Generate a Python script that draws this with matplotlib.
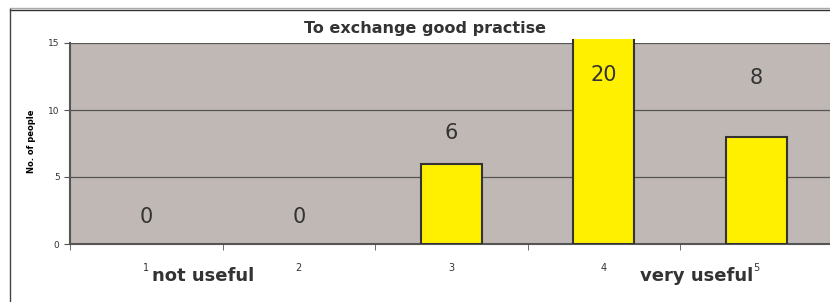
import matplotlib
matplotlib.use("Agg")
import matplotlib.pyplot as plt
from matplotlib.patches import Rectangle
from matplotlib.lines import Line2D

# données
categories = [1, 2, 3, 4, 5]
people = [0, 0, 6, 20, 8]
# hauteur des étiquettes de valeur (placées à la main dans l'original)
label_y = [2.0, 2.0, 8.3, 12.6, 12.4]

fig = plt.figure(figsize=(8.3, 3.02), dpi=100)
ax = fig.add_axes([70 / 830, 1 - 244 / 302, 762.5 / 830, 201 / 302])
ax.set_facecolor("#c0b8b5")

bars = ax.bar(categories, people, width=0.4, color="#fff000",
              edgecolor="#333333", linewidth=1.5, zorder=3)
clip = Rectangle((0, 0), 1, 1.02, transform=ax.transAxes)
for b, v in zip(bars, people):
    b.set_clip_path(clip)
    b.set_visible(v > 0)

for x, v, y in zip(categories, people, label_y):
    ax.text(x, y, str(v), ha="center", va="center", fontsize=15,
            color="#333333", zorder=4)

ax.set_xlim(0.5, 5.5)
ax.set_ylim(0, 15)
ax.set_yticks([0, 5, 10, 15])
ax.yaxis.grid(True, color="#555555", linewidth=0.9, zorder=1)
ax.set_axisbelow(True)

ax.set_xticks(categories)
ax.set_xticks([0.5, 1.5, 2.5, 3.5, 4.5], minor=True)
ax.tick_params(axis="x", which="major", length=0, labelsize=7, pad=14, colors="#333333")
ax.tick_params(axis="x", which="minor", length=4, color="#555555")
ax.tick_params(axis="y", length=4, labelsize=6.5, color="#555555", labelcolor="#333333")

for s in ["top", "right"]:
    ax.spines[s].set_visible(False)
for s in ["left", "bottom"]:
    ax.spines[s].set_color("#555555")
    ax.spines[s].set_linewidth(1.5)

fig.text(425 / 830, 1 - 28 / 302, "To exchange good practise", ha="center",
         va="center", fontsize=11.5, fontweight="bold", color="#333333")
fig.text(31 / 830, 1 - 141 / 302, "No. of people", rotation=90, ha="center",
         va="center", fontsize=6, fontweight="bold", color="black")
fig.text(203 / 830, 1 - 276 / 302, "not useful", ha="center", va="center",
         fontsize=13, fontweight="bold", color="#333333")
fig.text(697 / 830, 1 - 276 / 302, "very useful", ha="center", va="center",
         fontsize=13, fontweight="bold", color="#333333")

# cadre extérieur
fig.add_artist(Line2D([10 / 830, 1], [1 - 8 / 302] * 2, color="#aaaaaa", linewidth=1))
fig.add_artist(Line2D([10 / 830, 1], [1 - 9.5 / 302] * 2, color="#333333", linewidth=1))
fig.add_artist(Line2D([10 / 830] * 2, [0, 1 - 9 / 302], color="#444444", linewidth=1))

fig.savefig("out.png", dpi=100)
